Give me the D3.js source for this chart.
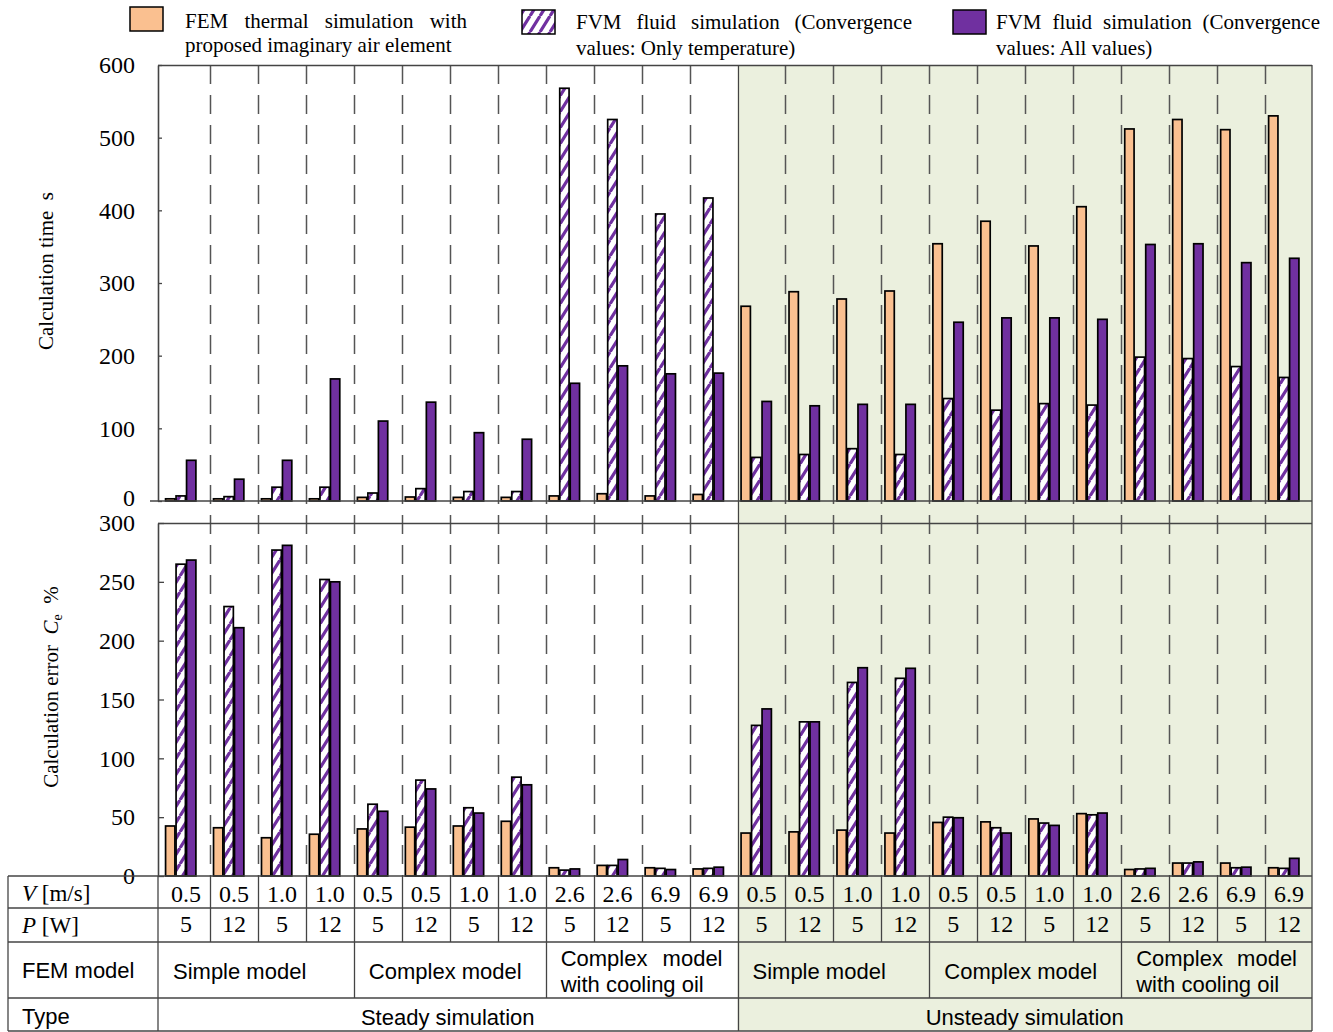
<!DOCTYPE html>
<html>
<head>
<meta charset="utf-8">
<script src="https://cdn.jsdelivr.net/npm/d3@7"></script>
<style>
  html, body { margin: 0; padding: 0; background: #ffffff; }
  svg { display: block; }
  text { white-space: pre; }
</style>
</head>
<body>
<svg id="chart" width="1333" height="1032"></svg>
<script>
// ---------- data ----------
const caseIndex = [0,1,2,3,4,5,6,7,8,9,10,11,12,13,14,15,16,17,18,19,20,21,22,23];
const velocity = ["0.5","0.5","1.0","1.0","0.5","0.5","1.0","1.0","2.6","2.6","6.9","6.9",
                  "0.5","0.5","1.0","1.0","0.5","0.5","1.0","1.0","2.6","2.6","6.9","6.9"];
const power = ["5","12","5","12","5","12","5","12","5","12","5","12",
               "5","12","5","12","5","12","5","12","5","12","5","12"];
const femModels = ["Simple model","Complex model","Complex model with cooling oil",
                   "Simple model","Complex model","Complex model with cooling oil"];
const simTypes = ["Steady simulation","Unsteady simulation"];

const seriesKeys = ["fem","fvmTemp","fvmAll"];
const seriesLine1 = ["FEM thermal simulation with",
                     "FVM fluid simulation (Convergence",
                     "FVM fluid simulation (Convergence"];
const seriesLine2 = ["proposed imaginary air element",
                     "values: Only temperature)",
                     "values: All values)"];

// calculation time [s]
const timeFEM     = [3,3,3,3,5,5.5,5,5,7,10,7,9,
                     268,288,278,289,354,385,351,405,512,525,511,530];
const timeFVMTemp = [7,6,19,19,11,17,13,13,568,525,395,417,
                     60,64,72,64,141,125,134,132,198,196,185,170];
const timeFVMAll  = [56,30,56,168,110,136,94,85,162,186,175,176,
                     137,131,133,133,246,252,252,250,353,354,328,334];

// calculation error Ce [%]
const errFEM     = [42.5,41,32.5,35.5,40,41.5,42.5,46.5,7,9,7,6,
                    36.5,37.5,39,36.5,45.5,46,48.5,53,5.5,11,11,7];
const errFVMTemp = [265,229,277,252,61,81.5,58,84,5,9,6.5,6.5,
                    128,131,164.5,168,50,41,45,52,6,11,7,6.5];
const errFVMAll  = [268.5,211,281,250,55,74,53.5,77.5,6,14,5.5,7.5,
                    142,131,177,176.5,49.5,36.5,43,53.5,6.5,12,7.5,15];

const timeTicks = [0,100,200,300,400,500,600];
const errTicks  = [0,50,100,150,200,250,300];

// ---------- styling ----------
const SERIF = "'Liberation Serif', 'Times New Roman', serif";
const SANS  = "'Liberation Sans', Arial, sans-serif";
const FEM_FILL = "#FAC090";
const PURPLE = "#7030A0";
const SHADE = "#EBF0DE";
const LINE = "#444444";

const svg = d3.select("#chart");
const defs = svg.append("defs");

// diagonal hatch for the "only temperature" series
const hatch = defs.append("pattern")
  .attr("id", "hatch")
  .attr("patternUnits", "userSpaceOnUse")
  .attr("width", 10).attr("height", 16);
hatch.append("rect").attr("width", 10).attr("height", 16).attr("fill", "#ffffff");
hatch.append("path")
  .attr("d", "M-10,16 L0,0 M0,16 L10,0 M10,16 L20,0")
  .attr("stroke", PURPLE).attr("stroke-width", 3.2).attr("fill", "none");

const fills = { fem: FEM_FILL, fvmTemp: "url(#hatch)", fvmAll: PURPLE };

// ---------- scales ----------
const axisX = 158, rightX = 1312;
const x = d3.scaleBand().domain(caseIndex).range([162, 1313]).padding(0);
const xSub = d3.scaleBand().domain(["fem","fvmTemp","fvmAll","spare"])
  .range([0, x.bandwidth()]).paddingInner(0.11).paddingOuter(0.34);

const yTime = d3.scaleLinear().domain([0, 600]).range([501, 65]);
const yErr  = d3.scaleLinear().domain([0, 300]).range([876, 523]);

const tableRows = [876, 908, 942, 998, 1031];
const tableLeft = 8;

// ---------- background ----------
const unsteadyX = x(12);
svg.append("rect")
  .attr("x", unsteadyX).attr("y", 65)
  .attr("width", rightX - unsteadyX).attr("height", 1031 - 65)
  .attr("fill", SHADE);

// ---------- group dividers ----------
const divG = svg.append("g");
caseIndex.slice(1).forEach(i => {
  const xp = Math.round(x(i)) + 0.5;
  divG.append("line")
    .attr("x1", xp).attr("x2", xp)
    .attr("y1", 65).attr("y2", 876)
    .attr("stroke", i === 12 ? LINE : "#555555")
    .attr("stroke-width", i === 12 ? 1.2 : 1.5)
    .attr("stroke-dasharray", i === 12 ? null : "19,11");
});

// ---------- bars ----------
const seriesTime = { fem: timeFEM, fvmTemp: timeFVMTemp, fvmAll: timeFVMAll };
const seriesErr  = { fem: errFEM,  fvmTemp: errFVMTemp,  fvmAll: errFVMAll };

function drawBars(values, y) {
  const g = svg.append("g");
  seriesKeys.forEach(k => {
    g.selectAll(null)
      .data(values[k])
      .join("rect")
      .attr("x", (d, i) => x(i) + xSub(k))
      .attr("y", d => y(d))
      .attr("width", xSub.bandwidth())
      .attr("height", d => y(0) - y(d))
      .attr("fill", fills[k])
      .attr("stroke", "#000000")
      .attr("stroke-width", 1.7);
  });
}
drawBars(seriesTime, yTime);
drawBars(seriesErr, yErr);

// ---------- frame and axes ----------
const frame = svg.append("g").attr("stroke", LINE).attr("stroke-width", 1.3).attr("fill", "none");
frame.append("line").attr("x1", axisX).attr("x2", rightX).attr("y1", 65.5).attr("y2", 65.5);
frame.append("line").attr("x1", 150).attr("x2", rightX).attr("y1", yTime(0)).attr("y2", yTime(0));
frame.append("line").attr("x1", axisX).attr("x2", rightX).attr("y1", 523.5).attr("y2", 523.5);
frame.append("line").attr("x1", rightX).attr("x2", rightX).attr("y1", 65).attr("y2", 1031);

function drawAxis(y, ticks, tickLen) {
  const g = svg.append("g")
    .attr("transform", `translate(${axisX},0)`)
    .call(d3.axisLeft(y).tickValues(ticks).tickSizeInner(-tickLen).tickSizeOuter(0).tickPadding(23));
  g.select(".domain").attr("stroke", LINE).attr("stroke-width", 1.6);
  g.selectAll(".tick line").attr("stroke", LINE).attr("stroke-width", 1.3);
  g.selectAll(".tick text")
    .attr("font-family", SERIF).attr("font-size", 24).attr("fill", "#000");
  g.attr("font-family", SERIF).attr("font-size", 24);
  return g;
}
const timeAxis = drawAxis(yTime, timeTicks, 4);
drawAxis(yErr, errTicks, 6);
// the zero of the time axis sits just above the error axis' top label
timeAxis.selectAll(".tick text").filter(d => d === 0).attr("dy", "0.2em");

// axis titles
svg.append("text")
  .attr("transform", "translate(53,271) rotate(-90)")
  .attr("text-anchor", "middle")
  .attr("font-family", SERIF).attr("font-size", 21)
  .text("Calculation time  s");

const errTitle = svg.append("text")
  .attr("transform", "translate(58,687) rotate(-90)")
  .attr("text-anchor", "middle")
  .attr("font-family", SERIF).attr("font-size", 21);
errTitle.append("tspan").text("Calculation error  ");
errTitle.append("tspan").attr("font-style", "italic").text("C");
errTitle.append("tspan").attr("font-size", 14).attr("dy", 4).text("e");
errTitle.append("tspan").attr("dy", -4).text("  %");

// ---------- helpers ----------
function justified(parent, words, x0, x1, baseline, font, size) {
  const t = parent.append("text")
    .attr("y", baseline)
    .attr("font-family", font).attr("font-size", size).attr("fill", "#000");
  const spans = words.map(w => t.append("tspan").text(w));
  const widths = spans.map(s => s.node().getComputedTextLength());
  const gap = (x1 - x0 - d3.sum(widths)) / Math.max(1, words.length - 1);
  let cx = x0;
  spans.forEach((s, i) => { s.attr("x", cx).attr("y", baseline); cx += widths[i] + gap; });
  return t;
}

// ---------- legend ----------
const legendLayout = [
  { sx: 130, sy: 7,  tx0: 185, tx1: 467,  b1: 28, b2: 52 },
  { sx: 522, sy: 10, tx0: 576, tx1: 912,  b1: 29, b2: 55 },
  { sx: 953, sy: 10, tx0: 996, tx1: 1320, b1: 29, b2: 55 }
];
const legend = svg.append("g");
seriesKeys.forEach((k, i) => {
  const L = legendLayout[i];
  legend.append("rect")
    .attr("x", L.sx).attr("y", L.sy).attr("width", 33).attr("height", 24)
    .attr("fill", fills[k]).attr("stroke", "#000").attr("stroke-width", 1.5);
  justified(legend, seriesLine1[i].split(" "), L.tx0, L.tx1, L.b1, SERIF, 21);
  legend.append("text")
    .attr("x", L.tx0).attr("y", L.b2)
    .attr("font-family", SERIF).attr("font-size", 21)
    .text(seriesLine2[i]);
});

// ---------- table ----------
const table = svg.append("g");
const tl = table.append("g").attr("stroke", LINE).attr("stroke-width", 1.3);
tableRows.forEach(yy => {
  tl.append("line").attr("x1", tableLeft).attr("x2", rightX).attr("y1", yy).attr("y2", yy);
});
tl.append("line").attr("x1", tableLeft).attr("x2", tableLeft).attr("y1", 876).attr("y2", 1031);
tl.append("line").attr("x1", axisX).attr("x2", axisX).attr("y1", 876).attr("y2", 1031);
caseIndex.slice(1).forEach(i => {
  const xp = Math.round(x(i)) + 0.5;
  let yEnd = tableRows[2];
  if (i % 4 === 0) yEnd = tableRows[3];
  if (i === 12) yEnd = tableRows[4];
  tl.append("line").attr("x1", xp).attr("x2", xp).attr("y1", 876).attr("y2", yEnd);
});

// row headers
const vHead = table.append("text").attr("x", 22).attr("y", 901)
  .attr("font-family", SERIF).attr("font-size", 23);
vHead.append("tspan").attr("font-style", "italic").text("V");
vHead.append("tspan").text(" [m/s]");
const pHead = table.append("text").attr("x", 22).attr("y", 933)
  .attr("font-family", SERIF).attr("font-size", 23);
pHead.append("tspan").attr("font-style", "italic").text("P");
pHead.append("tspan").text(" [W]");
table.append("text").attr("x", 22).attr("y", 978)
  .attr("font-family", SANS).attr("font-size", 22).text("FEM model");
table.append("text").attr("x", 22).attr("y", 1024)
  .attr("font-family", SANS).attr("font-size", 22).text("Type");

// per-case values
table.selectAll(null).data(velocity).join("text")
  .attr("x", (d, i) => x(i) + x.bandwidth() / 2)
  .attr("y", 902)
  .attr("text-anchor", "middle")
  .attr("font-family", SERIF).attr("font-size", 24)
  .text(d => d);
table.selectAll(null).data(power).join("text")
  .attr("x", (d, i) => x(i) + x.bandwidth() / 2)
  .attr("y", 932)
  .attr("text-anchor", "middle")
  .attr("font-family", SERIF).attr("font-size", 24)
  .text(d => d);

// FEM model spans (four cases each), text inset from the span's left edge
femModels.forEach((m, j) => {
  const x0 = j === 0 ? axisX : x(j * 4);
  const x1 = j === 5 ? rightX : x(j * 4 + 4);
  if (m.indexOf("cooling") >= 0) {
    justified(table, ["Complex", "model"], x0 + 15, x1 - 15, 966, SANS, 22);
    table.append("text").attr("x", x0 + 15).attr("y", 992)
      .attr("font-family", SANS).attr("font-size", 22).text("with cooling oil");
  } else {
    table.append("text")
      .attr("x", x0 + 15).attr("y", 979)
      .attr("font-family", SANS).attr("font-size", 22).text(m);
  }
});

// simulation type spans
simTypes.forEach((s, j) => {
  const x0 = j === 0 ? axisX : x(12);
  const x1 = j === 0 ? x(12) : rightX;
  table.append("text")
    .attr("x", (x0 + x1) / 2).attr("y", 1025)
    .attr("text-anchor", "middle")
    .attr("font-family", SANS).attr("font-size", 22).text(s);
});
</script>
</body>
</html>
